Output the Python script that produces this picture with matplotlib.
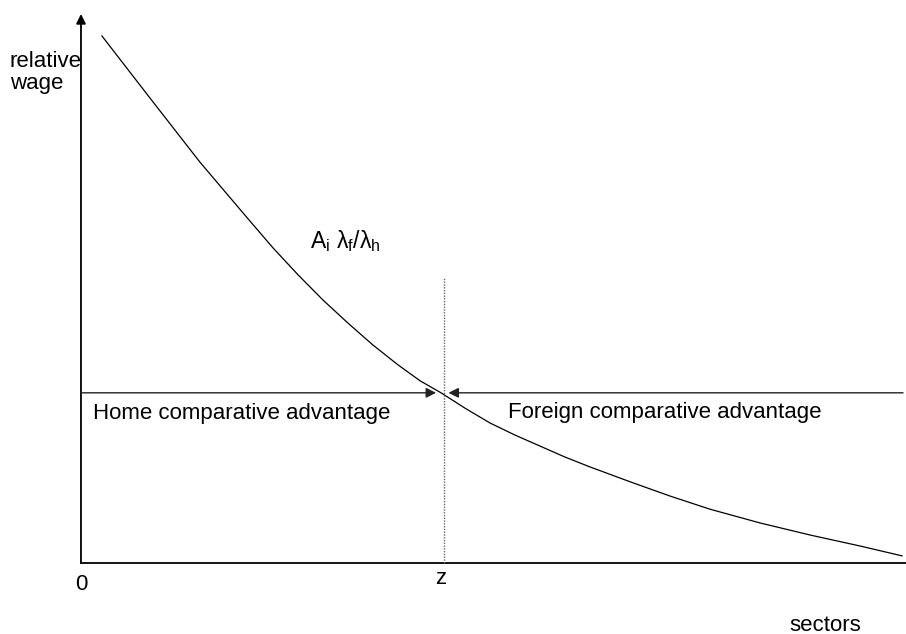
import matplotlib
matplotlib.use("Agg")
import matplotlib.pyplot as plt

plt.rcParams['font.family'] = ['Liberation Sans', 'DejaVu Sans']
plt.rcParams['mathtext.fontset'] = 'custom'
plt.rcParams['mathtext.rm'] = 'Liberation Sans'
plt.rcParams['mathtext.it'] = 'Liberation Sans'

# sectors (0..1) and relative wage A_i * lambda_f / lambda_h
sectors = [0.0255, 0.0839, 0.1448, 0.2032, 0.2336, 0.2640, 0.2944, 0.3248,
           0.3552, 0.3856, 0.4124, 0.4380, 0.4672, 0.4976, 0.5280, 0.5584,
           0.5888, 0.6192, 0.6679, 0.7165, 0.7652, 0.8260, 0.8869, 0.9477,
           0.9988]
wage = [0.960, 0.847, 0.730, 0.627, 0.574, 0.525, 0.479, 0.437,
        0.397, 0.361, 0.332, 0.310, 0.282, 0.255, 0.233, 0.213,
        0.193, 0.175, 0.148, 0.122, 0.098, 0.073, 0.051, 0.031,
        0.013]

z_cut = 0.438          # marginal sector
w_line = 0.310         # relative wage level

fig = plt.figure(figsize=(9.06, 6.34), dpi=100)
ax = fig.add_axes([0, 0, 1, 1])
ax.set_xlim(-0.0985, 1.0036)
ax.set_ylim(-0.1293, 1.0255)
ax.axis('off')

# axes with arrow on the vertical one
ax.plot([0, 1.01], [0, 0], color='black', lw=1.3, clip_on=False)
ax.annotate('', xy=(0, 1.0), xytext=(0, 0),
            arrowprops=dict(arrowstyle='-|>', color='black', lw=1.3,
                            mutation_scale=14, shrinkA=0, shrinkB=0))

# wage curve
ax.plot(sectors, wage, color='black', lw=0.9, solid_joinstyle='round')

# dotted cut-off
ax.plot([z_cut + 0.003, z_cut + 0.003], [0, 0.52], color='#666666',
        lw=1.0, ls=(0, (1, 1)))

# horizontal line with arrows pointing at the crossing
ax.annotate('', xy=(z_cut - 0.006, w_line), xytext=(0, w_line),
            arrowprops=dict(arrowstyle='-|>', color='#222222', lw=1.0,
                            mutation_scale=15, shrinkA=0, shrinkB=0))
ax.annotate('', xy=(z_cut + 0.009, w_line), xytext=(1.0, w_line),
            arrowprops=dict(arrowstyle='-|>', color='#222222', lw=1.0,
                            mutation_scale=15, shrinkA=0, shrinkB=0))

fs = 16
ax.text(-0.0864, 0.913, 'relative', fontsize=fs, va='center', ha='left')
ax.text(-0.0864, 0.873, 'wage', fontsize=fs, va='center', ha='left')
ax.text(0.278, 0.573, r'$\mathregular{A_i\ λ_f/λ_h}$', fontsize=16.5,
        va='baseline', ha='left')
ax.text(0.015, 0.263, 'Home comparative advantage', fontsize=fs,
        va='baseline', ha='left')
ax.text(0.520, 0.265, 'Foreign comparative advantage', fontsize=fs,
        va='baseline', ha='left')
ax.text(0.0, -0.04, '0', fontsize=fs, va='center', ha='center')
ax.text(z_cut, -0.028, 'z', fontsize=fs, va='center', ha='center')
ax.text(0.862, -0.113, 'sectors', fontsize=fs, va='center', ha='left')

fig.savefig('out.png', dpi=100)
